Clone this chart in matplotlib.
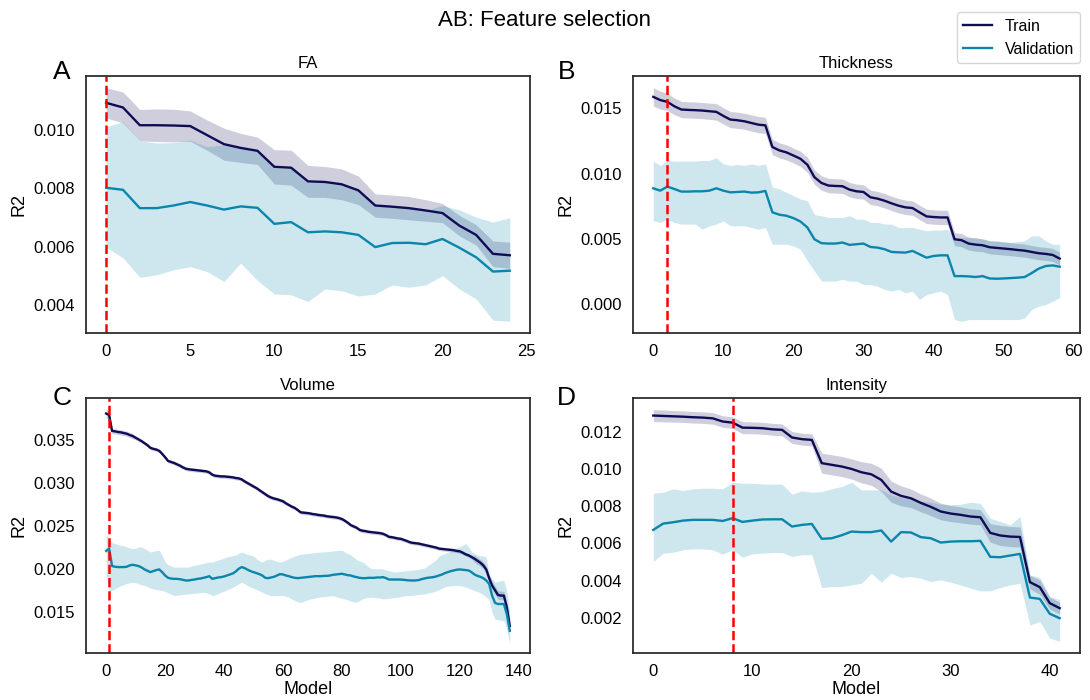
"""
Feature-selection curves: train / validation R2 per model for four feature groups.
"""

import numpy as np
import matplotlib

matplotlib.use("Agg")
import matplotlib.pyplot as plt
from matplotlib.lines import Line2D
from matplotlib.ticker import MultipleLocator

plt.rcParams["font.family"] = ["Liberation Sans", "DejaVu Sans"]

TRAIN_COLOR = "#0f0c55"
VAL_COLOR = "#0a85ab"

# ---------------------------------------------------------------- FA (0..24)
fa_best = 0
fa_train = [0.01094, 0.01078, 0.01017, 0.01017, 0.01016, 0.01014, 0.00983, 0.00952, 0.00939, 0.00929,
            0.00874, 0.00871, 0.00824, 0.00822, 0.00814, 0.00793, 0.00741, 0.00737, 0.00732, 0.00724,
            0.00715, 0.00672, 0.00640, 0.00575, 0.00570]
fa_train_err = [0.00052, 0.00053, 0.00054, 0.00056, 0.00056, 0.00052, 0.00052, 0.00055, 0.00050, 0.00047,
                0.00059, 0.00060, 0.00055, 0.00053, 0.00053, 0.00049, 0.00040, 0.00040, 0.00040, 0.00037,
                0.00033, 0.00035, 0.00035, 0.00044, 0.00045]
fa_val = [0.00802, 0.00795, 0.00732, 0.00732, 0.00741, 0.00753, 0.00741, 0.00727, 0.00738, 0.00733,
          0.00678, 0.00684, 0.00649, 0.00652, 0.00649, 0.00640, 0.00598, 0.00612, 0.00613, 0.00608,
          0.00626, 0.00596, 0.00563, 0.00514, 0.00517]
fa_val_lo = [0.00598, 0.00561, 0.00494, 0.00503, 0.00520, 0.00531, 0.00514, 0.00480, 0.00543, 0.00483,
             0.00437, 0.00434, 0.00411, 0.00454, 0.00448, 0.00430, 0.00437, 0.00468, 0.00460, 0.00468,
             0.00500, 0.00454, 0.00420, 0.00347, 0.00343]
fa_val_hi = [0.01011, 0.01029, 0.00963, 0.00956, 0.00957, 0.00966, 0.00943, 0.00950, 0.00938, 0.00928,
             0.00870, 0.00868, 0.00820, 0.00820, 0.00812, 0.00790, 0.00740, 0.00736, 0.00732, 0.00724,
             0.00741, 0.00726, 0.00701, 0.00684, 0.00699]

# --------------------------------------------------------- Thickness (0..58)
th_best = 2
th_train = [0.01587, 0.01562, 0.01549, 0.01515, 0.01490, 0.01487, 0.01485, 0.01482, 0.01477, 0.01472,
            0.01441, 0.01413, 0.01408, 0.01400, 0.01387, 0.01374, 0.01369, 0.01203, 0.01177, 0.01162,
            0.01138, 0.01113, 0.01067, 0.00972, 0.00928, 0.00908, 0.00905, 0.00903, 0.00877, 0.00864,
            0.00859, 0.00818, 0.00808, 0.00792, 0.00772, 0.00754, 0.00741, 0.00736, 0.00703, 0.00672,
            0.00667, 0.00664, 0.00664, 0.00497, 0.00490, 0.00464, 0.00456, 0.00451, 0.00436, 0.00431,
            0.00426, 0.00421, 0.00415, 0.00410, 0.00400, 0.00390, 0.00385, 0.00377, 0.00349]
th_train_err = [0.00070, 0.00068, 0.00066, 0.00064, 0.00062, 0.00062, 0.00062, 0.00062, 0.00062, 0.00063,
                0.00062, 0.00062, 0.00062, 0.00061, 0.00062, 0.00062, 0.00062, 0.00058, 0.00058, 0.00058,
                0.00057, 0.00058, 0.00058, 0.00055, 0.00055, 0.00055, 0.00055, 0.00055, 0.00055, 0.00055,
                0.00055, 0.00055, 0.00055, 0.00055, 0.00055, 0.00055, 0.00055, 0.00055, 0.00055, 0.00055,
                0.00055, 0.00055, 0.00055, 0.00050, 0.00050, 0.00050, 0.00050, 0.00050, 0.00050, 0.00050,
                0.00050, 0.00050, 0.00050, 0.00050, 0.00050, 0.00050, 0.00050, 0.00050, 0.00050]
th_val = [0.00887, 0.00869, 0.00900, 0.00882, 0.00862, 0.00862, 0.00864, 0.00864, 0.00869, 0.00887,
          0.00869, 0.00856, 0.00859, 0.00862, 0.00854, 0.00856, 0.00867, 0.00703, 0.00685, 0.00677,
          0.00659, 0.00633, 0.00587, 0.00497, 0.00467, 0.00464, 0.00464, 0.00472, 0.00454, 0.00459,
          0.00464, 0.00438, 0.00433, 0.00421, 0.00400, 0.00397, 0.00395, 0.00408, 0.00382, 0.00356,
          0.00369, 0.00374, 0.00374, 0.00215, 0.00215, 0.00213, 0.00208, 0.00215, 0.00197, 0.00195,
          0.00197, 0.00200, 0.00203, 0.00208, 0.00238, 0.00272, 0.00292, 0.00297, 0.00287]
th_val_lo = [0.00638, 0.00626, 0.00651, 0.00626, 0.00613, 0.00613, 0.00613, 0.00574, 0.00600, 0.00613,
             0.00638, 0.00600, 0.00600, 0.00600, 0.00587, 0.00574, 0.00587, 0.00459, 0.00459, 0.00459,
             0.00446, 0.00421, 0.00331, 0.00254, 0.00177, 0.00177, 0.00177, 0.00190, 0.00177, 0.00177,
             0.00151, 0.00151, 0.00138, 0.00113, 0.00100, 0.00113, 0.00087, 0.00100, 0.00036, 0.00074,
             0.00087, 0.00100, 0.00074, -0.00118, -0.00131, -0.00118, -0.00118, -0.00118, -0.00118, -0.00118,
             -0.00118, -0.00118, -0.00118, -0.00105, -0.00041, -0.00015, -0.00003, 0.00023, 0.00049]
th_val_hi = [0.01095, 0.01062, 0.01100, 0.01095, 0.01095, 0.01095, 0.01095, 0.01100, 0.01100, 0.01121,
             0.01074, 0.01062, 0.01069, 0.01062, 0.01074, 0.01062, 0.01074, 0.00895, 0.00882, 0.00856,
             0.00831, 0.00805, 0.00792, 0.00685, 0.00677, 0.00664, 0.00664, 0.00664, 0.00677, 0.00651,
             0.00651, 0.00626, 0.00626, 0.00613, 0.00613, 0.00587, 0.00587, 0.00587, 0.00574, 0.00562,
             0.00567, 0.00567, 0.00574, 0.00510, 0.00510, 0.00510, 0.00510, 0.00497, 0.00485, 0.00485,
             0.00479, 0.00472, 0.00479, 0.00485, 0.00523, 0.00523, 0.00485, 0.00459, 0.00459]

# ----------------------------------------------------------- Volume (0..137)
vol_best = 1
vol_train = [0.03809, 0.03793, 0.03606, 0.03602, 0.03594, 0.03590, 0.03582, 0.03574, 0.03559, 0.03547,
             0.03527, 0.03508, 0.03488, 0.03465, 0.03441, 0.03410, 0.03398, 0.03390, 0.03375, 0.03340,
             0.03300, 0.03257, 0.03246, 0.03234, 0.03218, 0.03203, 0.03183, 0.03167, 0.03160, 0.03156,
             0.03152, 0.03148, 0.03144, 0.03140, 0.03136, 0.03124, 0.03097, 0.03085, 0.03081, 0.03077,
             0.03077, 0.03074, 0.03070, 0.03066, 0.03058, 0.03054, 0.03042, 0.03019, 0.02999, 0.02980,
             0.02960, 0.02941, 0.02917, 0.02894, 0.02870, 0.02847, 0.02831, 0.02819, 0.02811, 0.02800,
             0.02788, 0.02764, 0.02745, 0.02725, 0.02710, 0.02686, 0.02659, 0.02655, 0.02651, 0.02647,
             0.02639, 0.02635, 0.02628, 0.02624, 0.02620, 0.02612, 0.02608, 0.02604, 0.02600, 0.02592,
             0.02581, 0.02561, 0.02538, 0.02510, 0.02495, 0.02479, 0.02455, 0.02444, 0.02440, 0.02432,
             0.02428, 0.02424, 0.02420, 0.02416, 0.02408, 0.02393, 0.02373, 0.02369, 0.02362, 0.02354,
             0.02350, 0.02338, 0.02326, 0.02311, 0.02303, 0.02299, 0.02295, 0.02287, 0.02279, 0.02272,
             0.02264, 0.02256, 0.02248, 0.02236, 0.02232, 0.02228, 0.02225, 0.02221, 0.02217, 0.02209,
             0.02205, 0.02189, 0.02170, 0.02158, 0.02138, 0.02119, 0.02095, 0.02072, 0.02041, 0.01994,
             0.01892, 0.01806, 0.01751, 0.01696, 0.01689, 0.01689, 0.01552, 0.01336]
vol_train_err = [0.00050, 0.00050, 0.00030, 0.00030, 0.00030, 0.00030, 0.00030, 0.00030, 0.00030, 0.00030,
                 0.00022, 0.00022, 0.00022, 0.00022, 0.00022, 0.00022, 0.00022, 0.00022, 0.00022, 0.00022,
                 0.00022, 0.00022, 0.00022, 0.00022, 0.00022, 0.00022, 0.00022, 0.00022, 0.00022, 0.00022,
                 0.00022, 0.00022, 0.00022, 0.00022, 0.00022, 0.00022, 0.00022, 0.00022, 0.00022, 0.00022,
                 0.00022, 0.00022, 0.00022, 0.00022, 0.00022, 0.00022, 0.00022, 0.00022, 0.00022, 0.00022,
                 0.00022, 0.00022, 0.00022, 0.00022, 0.00022, 0.00022, 0.00022, 0.00022, 0.00022, 0.00022,
                 0.00022, 0.00022, 0.00022, 0.00022, 0.00022, 0.00022, 0.00022, 0.00022, 0.00022, 0.00022,
                 0.00022, 0.00022, 0.00022, 0.00022, 0.00022, 0.00022, 0.00022, 0.00022, 0.00022, 0.00022,
                 0.00022, 0.00022, 0.00022, 0.00022, 0.00022, 0.00022, 0.00022, 0.00022, 0.00022, 0.00022,
                 0.00022, 0.00022, 0.00022, 0.00022, 0.00022, 0.00022, 0.00022, 0.00022, 0.00022, 0.00022,
                 0.00022, 0.00022, 0.00022, 0.00022, 0.00022, 0.00022, 0.00022, 0.00022, 0.00022, 0.00022,
                 0.00022, 0.00022, 0.00022, 0.00022, 0.00022, 0.00022, 0.00022, 0.00022, 0.00022, 0.00022,
                 0.00022, 0.00022, 0.00022, 0.00022, 0.00022, 0.00040, 0.00040, 0.00040, 0.00040, 0.00040,
                 0.00050, 0.00050, 0.00050, 0.00050, 0.00050, 0.00050, 0.00050, 0.00050]
vol_val = [0.02209, 0.02236, 0.02033, 0.02025, 0.02021, 0.02021, 0.02021, 0.02025, 0.02041, 0.02048,
           0.02041, 0.02033, 0.02017, 0.01994, 0.01978, 0.01962, 0.01974, 0.01986, 0.01994, 0.01962,
           0.01923, 0.01896, 0.01888, 0.01884, 0.01884, 0.01880, 0.01872, 0.01865, 0.01865, 0.01872,
           0.01876, 0.01884, 0.01888, 0.01896, 0.01904, 0.01915, 0.01884, 0.01892, 0.01900, 0.01904,
           0.01912, 0.01923, 0.01935, 0.01947, 0.01970, 0.02002, 0.02021, 0.02009, 0.01990, 0.01974,
           0.01962, 0.01951, 0.01939, 0.01923, 0.01896, 0.01892, 0.01900, 0.01908, 0.01923, 0.01939,
           0.01935, 0.01923, 0.01915, 0.01904, 0.01896, 0.01892, 0.01896, 0.01900, 0.01904, 0.01908,
           0.01912, 0.01915, 0.01915, 0.01915, 0.01919, 0.01919, 0.01923, 0.01931, 0.01935, 0.01939,
           0.01943, 0.01935, 0.01927, 0.01923, 0.01912, 0.01904, 0.01896, 0.01892, 0.01892, 0.01896,
           0.01896, 0.01896, 0.01900, 0.01900, 0.01904, 0.01892, 0.01876, 0.01876, 0.01876, 0.01876,
           0.01876, 0.01872, 0.01869, 0.01865, 0.01865, 0.01865, 0.01869, 0.01880, 0.01888, 0.01896,
           0.01900, 0.01904, 0.01912, 0.01923, 0.01935, 0.01951, 0.01962, 0.01974, 0.01982, 0.01990,
           0.01994, 0.01990, 0.01986, 0.01982, 0.01962, 0.01935, 0.01919, 0.01908, 0.01892, 0.01865,
           0.01826, 0.01689, 0.01603, 0.01591, 0.01591, 0.01591, 0.01473, 0.01278]
vol_val_lo = [0.01943, 0.01736, 0.01748, 0.01767, 0.01787, 0.01806, 0.01818, 0.01830, 0.01838, 0.01845,
              0.01838, 0.01826, 0.01814, 0.01806, 0.01791, 0.01775, 0.01767, 0.01759, 0.01752, 0.01748,
              0.01736, 0.01720, 0.01705, 0.01689, 0.01693, 0.01697, 0.01701, 0.01705, 0.01709, 0.01712,
              0.01716, 0.01720, 0.01724, 0.01728, 0.01720, 0.01709, 0.01689, 0.01701, 0.01712, 0.01728,
              0.01740, 0.01755, 0.01771, 0.01787, 0.01806, 0.01826, 0.01845, 0.01826, 0.01806, 0.01787,
              0.01775, 0.01759, 0.01744, 0.01728, 0.01709, 0.01701, 0.01689, 0.01689, 0.01689, 0.01689,
              0.01689, 0.01681, 0.01670, 0.01650, 0.01631, 0.01615, 0.01607, 0.01623, 0.01634, 0.01646,
              0.01654, 0.01662, 0.01670, 0.01673, 0.01677, 0.01681, 0.01685, 0.01689, 0.01677, 0.01666,
              0.01658, 0.01650, 0.01638, 0.01627, 0.01615, 0.01611, 0.01631, 0.01650, 0.01662, 0.01666,
              0.01670, 0.01666, 0.01662, 0.01658, 0.01650, 0.01654, 0.01658, 0.01662, 0.01666, 0.01670,
              0.01677, 0.01685, 0.01689, 0.01689, 0.01693, 0.01697, 0.01701, 0.01705, 0.01709, 0.01716,
              0.01724, 0.01732, 0.01744, 0.01759, 0.01775, 0.01791, 0.01798, 0.01802, 0.01806, 0.01806,
              0.01806, 0.01798, 0.01787, 0.01775, 0.01763, 0.01748, 0.01736, 0.01720, 0.01701, 0.01670,
              0.01642, 0.01493, 0.01415, 0.01407, 0.01403, 0.01396, 0.01298, 0.01122]
vol_val_hi = [0.02412, 0.02334, 0.02307, 0.02295, 0.02283, 0.02275, 0.02268, 0.02256, 0.02244, 0.02236,
              0.02244, 0.02252, 0.02256, 0.02236, 0.02217, 0.02197, 0.02205, 0.02213, 0.02217, 0.02158,
              0.02080, 0.02049, 0.02033, 0.02021, 0.02021, 0.02021, 0.02021, 0.02021, 0.02021, 0.02033,
              0.02041, 0.02049, 0.02057, 0.02065, 0.02072, 0.02080, 0.02080, 0.02092, 0.02103, 0.02115,
              0.02127, 0.02139, 0.02147, 0.02154, 0.02162, 0.02182, 0.02197, 0.02182, 0.02170, 0.02162,
              0.02150, 0.02119, 0.02092, 0.02080, 0.02099, 0.02115, 0.02111, 0.02099, 0.02088, 0.02080,
              0.02088, 0.02103, 0.02119, 0.02135, 0.02150, 0.02162, 0.02170, 0.02174, 0.02178, 0.02182,
              0.02186, 0.02190, 0.02194, 0.02197, 0.02197, 0.02201, 0.02205, 0.02209, 0.02213, 0.02217,
              0.02217, 0.02197, 0.02178, 0.02162, 0.02135, 0.02107, 0.02092, 0.02080, 0.02053, 0.02025,
              0.02006, 0.02002, 0.02002, 0.02002, 0.01998, 0.01986, 0.01979, 0.01971, 0.01963, 0.01967,
              0.01971, 0.01975, 0.01979, 0.01982, 0.01986, 0.01990, 0.01994, 0.02002, 0.02010, 0.02033,
              0.02057, 0.02080, 0.02107, 0.02150, 0.02166, 0.02178, 0.02194, 0.02205, 0.02225, 0.02244,
              0.02260, 0.02275, 0.02295, 0.02256, 0.02205, 0.02178, 0.02162, 0.02154, 0.02147, 0.02139,
              0.01931, 0.01877, 0.01845, 0.01853, 0.01861, 0.01865, 0.01736, 0.01501]
vol_ylim = (0.0102, 0.0399)

# --------------------------------------------------------- Intensity (0..41)
in_best = 8
in_train = [0.01288, 0.01286, 0.01284, 0.01282, 0.01279, 0.01277, 0.01273, 0.01256, 0.01250, 0.01223,
            0.01222, 0.01220, 0.01214, 0.01211, 0.01170, 0.01161, 0.01157, 0.01032, 0.01023, 0.01014,
            0.01001, 0.00983, 0.00972, 0.00942, 0.00879, 0.00856, 0.00843, 0.00818, 0.00797, 0.00772,
            0.00761, 0.00754, 0.00745, 0.00741, 0.00657, 0.00643, 0.00637, 0.00635, 0.00392, 0.00365,
            0.00279, 0.00252]
in_train_err = [0.00032, 0.00032, 0.00031, 0.00031, 0.00031, 0.00031, 0.00031, 0.00031, 0.00031, 0.00032,
                0.00032, 0.00032, 0.00032, 0.00032, 0.00032, 0.00032, 0.00032, 0.00054, 0.00054, 0.00054,
                0.00054, 0.00057, 0.00059, 0.00063, 0.00057, 0.00054, 0.00050, 0.00048, 0.00047, 0.00045,
                0.00043, 0.00043, 0.00041, 0.00041, 0.00050, 0.00054, 0.00054, 0.00054, 0.00036, 0.00039,
                0.00032, 0.00032]
in_val = [0.00673, 0.00707, 0.00714, 0.00723, 0.00727, 0.00727, 0.00727, 0.00721, 0.00736, 0.00716,
          0.00723, 0.00729, 0.00730, 0.00730, 0.00691, 0.00700, 0.00705, 0.00625, 0.00628, 0.00644,
          0.00664, 0.00661, 0.00661, 0.00670, 0.00610, 0.00661, 0.00659, 0.00634, 0.00628, 0.00605,
          0.00610, 0.00612, 0.00612, 0.00614, 0.00528, 0.00526, 0.00535, 0.00544, 0.00309, 0.00302,
          0.00222, 0.00198]
in_val_lo = [0.00503, 0.00548, 0.00553, 0.00566, 0.00571, 0.00571, 0.00566, 0.00542, 0.00566, 0.00526,
             0.00544, 0.00548, 0.00551, 0.00551, 0.00530, 0.00539, 0.00539, 0.00363, 0.00368, 0.00368,
             0.00377, 0.00386, 0.00440, 0.00392, 0.00440, 0.00417, 0.00422, 0.00413, 0.00395, 0.00404,
             0.00392, 0.00377, 0.00360, 0.00345, 0.00345, 0.00363, 0.00377, 0.00386, 0.00162, 0.00180,
             0.00091, 0.00073]
in_val_hi = [0.00870, 0.00876, 0.00894, 0.00885, 0.00894, 0.00897, 0.00897, 0.00894, 0.00929, 0.00924,
             0.00924, 0.00920, 0.00919, 0.00919, 0.00865, 0.00883, 0.00876, 0.00879, 0.00894, 0.00906,
             0.00929, 0.00888, 0.00888, 0.00888, 0.00861, 0.00847, 0.00840, 0.00829, 0.00822, 0.00811,
             0.00808, 0.00811, 0.00822, 0.00816, 0.00736, 0.00718, 0.00700, 0.00745, 0.00431, 0.00417,
             0.00315, 0.00297]


def draw_panel(ax, train, train_err, val, val_lo, val_hi, best, title, ystep, xstep):
    """Draw train/validation curves with their uncertainty bands."""
    x = np.arange(len(train))
    train = np.asarray(train)
    train_err = np.asarray(train_err)

    ax.fill_between(x, train - train_err, train + train_err, color=TRAIN_COLOR, alpha=0.2, linewidth=0)
    ax.plot(x, train, color=TRAIN_COLOR, linewidth=1.7)
    ax.fill_between(x, val_lo, val_hi, color=VAL_COLOR, alpha=0.2, linewidth=0)
    ax.plot(x, val, color=VAL_COLOR, linewidth=1.7)
    ax.axvline(best, color="red", linestyle="--", linewidth=1.8)

    ax.set_title(title, fontsize=12)
    ax.set_ylabel("R2", fontsize=13)
    ax.yaxis.set_major_locator(MultipleLocator(ystep))
    ax.xaxis.set_major_locator(MultipleLocator(xstep))
    ax.tick_params(labelsize=12, length=0, pad=8)
    for spine in ax.spines.values():
        spine.set_color("#262626")
        spine.set_linewidth(1.25)


fig = plt.figure(figsize=(10.9, 7), dpi=100)

ax_fa = fig.add_axes([0.0789, 0.5243, 0.4073, 0.3671])
ax_th = fig.add_axes([0.5807, 0.5243, 0.4101, 0.3671])
ax_vol = fig.add_axes([0.0789, 0.0671, 0.4073, 0.3643])
ax_in = fig.add_axes([0.5807, 0.0671, 0.4101, 0.3643])

draw_panel(ax_fa, fa_train, fa_train_err, fa_val, fa_val_lo, fa_val_hi, fa_best, "FA", 0.002, 5)
draw_panel(ax_th, th_train, th_train_err, th_val, th_val_lo, th_val_hi, th_best, "Thickness", 0.005, 10)
draw_panel(ax_vol, vol_train, vol_train_err, vol_val, vol_val_lo, vol_val_hi, vol_best, "Volume", 0.005, 20)
draw_panel(ax_in, in_train, in_train_err, in_val, in_val_lo, in_val_hi, in_best, "Intensity", 0.002, 10)
ax_vol.set_ylim(*vol_ylim)

ax_vol.set_xlabel("Model", fontsize=13, labelpad=1)
ax_in.set_xlabel("Model", fontsize=13, labelpad=1)

for letter, (lx, ly) in zip("ABCD", [(0.057, 0.897), (0.520, 0.897), (0.057, 0.431), (0.520, 0.431)]):
    fig.text(lx, ly, letter, fontsize=19, ha="center", va="center")

fig.suptitle("AB: Feature selection", fontsize=16, y=0.971, va="center")

handles = [Line2D([], [], color=TRAIN_COLOR, linewidth=1.7),
           Line2D([], [], color=VAL_COLOR, linewidth=1.7)]
fig.legend(handles, ["Train", "Validation"], loc="upper right", bbox_to_anchor=(0.9985, 0.994),
           fontsize=11.5, frameon=True, edgecolor="#cccccc", handlelength=1.8)

fig.savefig("out.png", dpi=100)
